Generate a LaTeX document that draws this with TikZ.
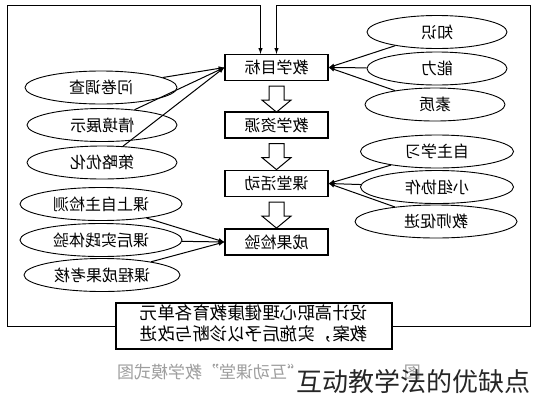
\documentclass[tikz,border=0pt]{standalone}
\usepackage{fontspec}
\usepackage{graphicx}
\usetikzlibrary{arrows}
\usetikzlibrary{shapes.geometric, calc}
\newfontfamily\cjk{Noto Sans CJK SC}
\newcommand{\flip}[1]{\scalebox{-1}[1]{#1}}

\tikzset{
  stage/.style={draw, line width=1.2pt, minimum width=103pt, minimum height=26pt, inner sep=0pt, font=\cjk\fontsize{16}{16}\selectfont},
  aspect/.style={draw, ellipse, line width=0.9pt, minimum height=33pt, inner sep=0pt, font=\cjk\fontsize{16}{16}\selectfont},
  link/.style={-latex, line width=1pt},
}

\begin{document}
\begin{tikzpicture}[x=1pt, y=-1pt]
        \useasboundingbox (0,0) rectangle (535,400);

        % stages in the middle
        \node[stage] (goal) at (276.5,67.5) {\flip{教学目标}};
        \node[stage] (res) at (276.5,125) {\flip{教学资源}};
        \node[stage] (act) at (276.5,183.5) {\flip{课堂活动}};
        \node[stage] (test) at (276.5,242) {\flip{成果检验}};

        \foreach \a/\b in {goal/res, res/act, act/test}
          \draw[line width=1pt, shift={(\a.south)}] (-7.5,5) -- (7.5,5) -- (7.5,19) -- (14.5,19) -- (0,31) -- (-14.5,19) -- (-7.5,19) -- cycle;

        % left side
        \node[aspect, minimum width=152pt] (wj) at (101,87.5) {\flip{问卷调查}};
        \node[aspect, minimum width=150pt] (qj) at (102,125) {\flip{情境展示}};
        \node[aspect, minimum width=150pt] (cl) at (102,162.5) {\flip{策略优化}};
        \node[aspect, minimum width=162pt] (ks) at (101,204) {\flip{课上自主检测}};
        \node[aspect, minimum width=162pt] (kh) at (101,240) {\flip{课后实践体验}};
        \node[aspect, minimum width=156pt] (kc) at (102,275) {\flip{课程成果考核}};

        % right side
        \node[aspect, minimum width=140pt] (zs) at (437,32) {\flip{知识}};
        \node[aspect, minimum width=140pt] (nl) at (437,68.5) {\flip{能力}};
        \node[aspect, minimum width=140pt] (sz) at (435,104.5) {\flip{素质}};
        \node[aspect, minimum width=153pt] (zz) at (437,151.5) {\flip{自主学习}};
        \node[aspect, minimum width=153pt] (xz) at (437,187) {\flip{小组协作}};
        \node[aspect, minimum width=162pt] (js) at (436,221.5) {\flip{教师促进}};

        \foreach \e in {wj, qj, cl}
          \draw[link] (\e) -- (goal.west);
        \foreach \e in {zs, nl, sz}
          \draw[link] (\e) -- (goal.east);
        \foreach \e in {zz, xz, js}
          \draw[link] (\e) -- (act.east);
        \foreach \e in {ks, kh, kc}
          \draw[link] (\e) -- (test.west);

        % bottom box and the two feedback lines
        \node[draw, line width=1.2pt, minimum width=276pt, minimum height=46pt, inner sep=0pt] (plan) at (254,326)
          {\flip{\cjk\fontsize{17.5}{21}\selectfont\begin{tabular}{@{}l@{}}设计高职心理健康教育各单元\\教案，实施后予以诊断与改进\end{tabular}}};

        \draw[link] (plan.west) -| (7,5) -| ([xshift=-16pt]goal.north);
        \draw[link] (plan.east) -| (530,5) -| (goal.north);

        % caption and mark
        \node[font=\cjk\fontsize{17}{17}\selectfont, text=black!38, anchor=west, inner sep=0pt] (cap) at (117,372) {\flip{“互动课堂”教学模式图}};
        \node[font=\cjk\fontsize{17}{17}\selectfont, text=black!38, anchor=east, inner sep=0pt] (capn) at (421,372) {\flip{图}};
        \node[font=\cjk\fontsize{26}{26}\selectfont, text=black!85, anchor=east, inner sep=0pt] (mark) at (531,382) {互动教学法的优缺点};

      \end{tikzpicture}
\end{document}
